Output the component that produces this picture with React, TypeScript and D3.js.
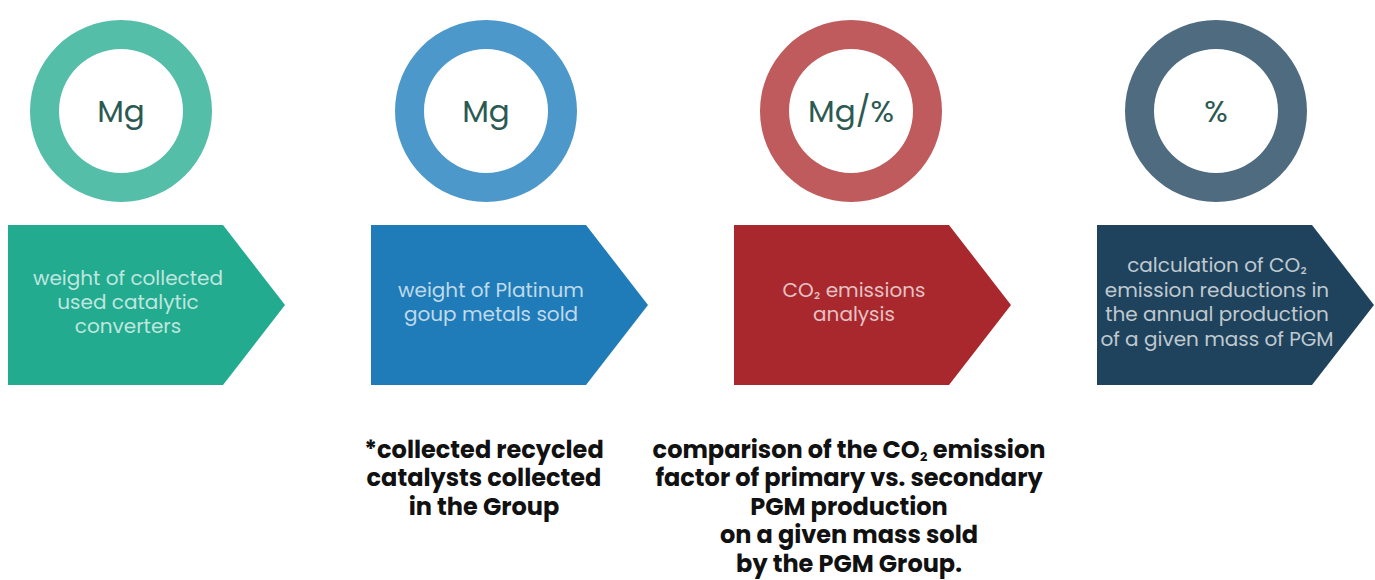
import React, { useEffect, useRef } from 'react';
import * as d3 from 'd3';

const steps = ['collect', 'sold', 'analysis', 'reduction'];
const units = ['Mg', 'Mg', 'Mg/%', '%'];
const ringColors = ['#54bea9', '#4c98ca', '#bf5b5c', '#4f6b80'];
const arrowColors = ['#22ab8f', '#1f7cb9', '#a9282e', '#1f435c'];
const descriptions = [
  ['weight of collected', 'used catalytic', 'converters'],
  ['weight of Platinum', 'goup metals sold'],
  ['CO₂ emissions', 'analysis'],
  ['calculation of CO₂', 'emission reductions in', 'the annual production', 'of a given mass of PGM'],
];
const notes = [
  [],
  ['*collected recycled', 'catalysts collected', 'in the Group'],
  ['comparison of the CO₂ emission', 'factor of primary vs. secondary', 'PGM production', 'on a given mass sold', 'by the PGM Group.'],
  [],
];

const W = 1375;
const H = 580;

const App = () => {
  const ref = useRef<SVGSVGElement>(null);

  useEffect(() => {
    const svg = d3.select(ref.current);
    svg.selectAll('*').remove();

    const x = d3.scalePoint<string>().domain(steps).range([121, 1216]);
    const xa = d3.scalePoint<string>().domain(steps).range([8, 1097]);
    const font = 'Poppins, Lato, "Open Sans", sans-serif';
    const rectW = 215, tipW = 62;
    const top = 225, bottom = 385;

    // rings
    const ring = svg.selectAll('g.ring')
      .data(steps)
      .join('g')
      .attr('class', 'ring')
      .attr('transform', d => `translate(${x(d)},111)`);

    const arc = d3.arc<any>().innerRadius(62).outerRadius(91).startAngle(0).endAngle(2 * Math.PI);
    ring.append('path')
      .attr('d', arc({}))
      .attr('fill', (_, i) => ringColors[i]);

    ring.append('text')
      .attr('dy', '0.35em')
      .attr('text-anchor', 'middle')
      .style('font', `31px ${font}`)
      .attr('fill', '#2c5a52')
      .text((_, i) => units[i]);

    // arrows
    const arrow = svg.selectAll('g.arrow')
      .data(steps)
      .join('g')
      .attr('class', 'arrow')
      .attr('transform', d => `translate(${xa(d)},0)`);

    const arrowPts: [number, number][] = [[0, top], [rectW, top], [rectW + tipW, (top + bottom) / 2], [rectW, bottom], [0, bottom]];
    arrow.append('path')
      .attr('d', d3.line()(arrowPts) + 'Z')
      .attr('fill', (_, i) => arrowColors[i]);

    arrow.each(function (_, i) {
      const lines = descriptions[i];
      const lh = 24.4;
      const y0 = 302 - ((lines.length - 1) * lh) / 2;
      d3.select(this).append('text')
        .attr('text-anchor', 'middle')
        .style('font', `20px ${font}`)
        .attr('fill', 'rgba(255,255,255,0.72)')
        .selectAll('tspan')
        .data(lines)
        .join('tspan')
        .attr('x', 120)
        .attr('y', (_, j) => y0 + j * lh)
        .attr('dy', '0.35em')
        .text(d => d);
    });

    // notes under the arrows
    const note = svg.selectAll('g.note')
      .data(steps)
      .join('g')
      .attr('class', 'note')
      .attr('transform', d => `translate(${x(d)! - 2},0)`);

    note.append('text')
      .attr('text-anchor', 'middle')
      .style('font', `bold 24px ${font}`)
      .attr('fill', '#111')
      .selectAll('tspan')
      .data((_, i) => notes[i])
      .join('tspan')
      .attr('x', 0)
      .attr('y', (_, j) => 450 + j * 28.4)
      .attr('dy', '0.33em')
      .text(d => d);
  }, []);

  return (
    <svg
      ref={ref}
      width={W}
      height={H}
      style={{ position: 'absolute', left: 0, top: 0, background: '#fff' }}
    />
  );
};

export default App;
